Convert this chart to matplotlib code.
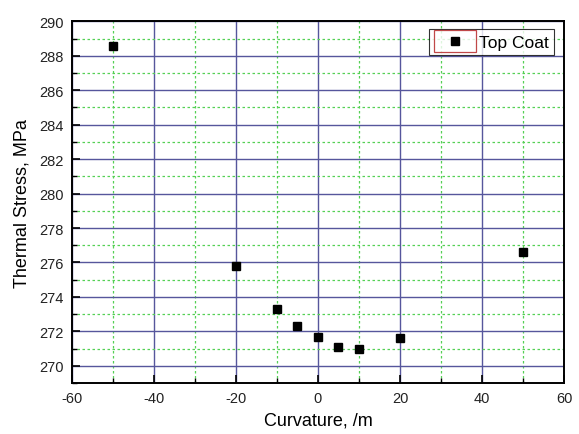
import matplotlib
matplotlib.use("Agg")
import matplotlib.pyplot as plt
from matplotlib.patches import Rectangle
from matplotlib.legend_handler import HandlerLine2D
from matplotlib.ticker import MultipleLocator

curvature = [-50, -20, -10, -5, 0, 5, 10, 20, 50]
thermal_stress = [288.55, 275.8, 273.3, 272.3, 271.7, 271.1, 271.0, 271.6, 276.6]
series_name = "Top Coat"

plt.rcParams["font.family"] = ["Liberation Sans", "DejaVu Sans"]
plt.rcParams["axes.unicode_minus"] = False


class BoxedHandler(HandlerLine2D):
    # Origin-style legend: marker drawn inside a thin red box
    def create_artists(self, legend, orig_handle, xdescent, ydescent,
                       width, height, fontsize, trans):
        artists = super().create_artists(legend, orig_handle, xdescent, ydescent,
                                         width, height, fontsize, trans)
        box = Rectangle((-xdescent, -ydescent - 4.0), width, height + 7.0,
                        facecolor="none", edgecolor="#c04848", linewidth=0.9,
                        transform=trans, zorder=5)
        return [box] + list(artists)


def Main():
    fig = plt.figure(figsize=(5.79, 4.35), dpi=100)
    ax = fig.add_axes([0.1244, 0.1172, 0.8496, 0.8315])

    ax.plot(curvature, thermal_stress, linestyle="none", marker="s",
            markersize=6.2, color="black", label=series_name, zorder=3)

    ax.set_xlim(-60, 60)
    ax.set_ylim(269, 290)
    ax.xaxis.set_major_locator(MultipleLocator(20))
    ax.xaxis.set_minor_locator(MultipleLocator(10))
    ax.yaxis.set_major_locator(MultipleLocator(2))
    ax.yaxis.set_minor_locator(MultipleLocator(1))

    ax.grid(which="major", color="#56569c", linewidth=1.0, linestyle="-")
    ax.grid(which="minor", color="#55d055", linewidth=0.9, linestyle=(0, (2, 2)))
    ax.set_axisbelow(True)

    ax.tick_params(which="major", direction="in", length=6, width=1.2,
                   labelsize=10.5, pad=6, top=False, right=False,
                   labelcolor="#222222")
    ax.tick_params(which="minor", direction="in", length=3.5, width=1.0,
                   top=False, right=False)
    for sp in ax.spines.values():
        sp.set_linewidth(1.4)

    ax.set_xlabel("Curvature, /m", fontsize=13, labelpad=4.5)
    ax.set_ylabel("Thermal Stress, MPa", fontsize=13, labelpad=6)

    leg = ax.legend(loc="upper right", bbox_to_anchor=(0.98, 0.978),
                    handler_map={ax.lines[0]: BoxedHandler(numpoints=1)},
                    fontsize=12.5, frameon=True, fancybox=False,
                    handlelength=2.4, handletextpad=0.2, borderpad=0.3,
                    borderaxespad=0.0)
    leg.get_frame().set_edgecolor("black")
    leg.get_frame().set_linewidth(0.8)

    fig.savefig("out.png", dpi=100)
    plt.close(fig)


if __name__ == "__main__":
    Main()
